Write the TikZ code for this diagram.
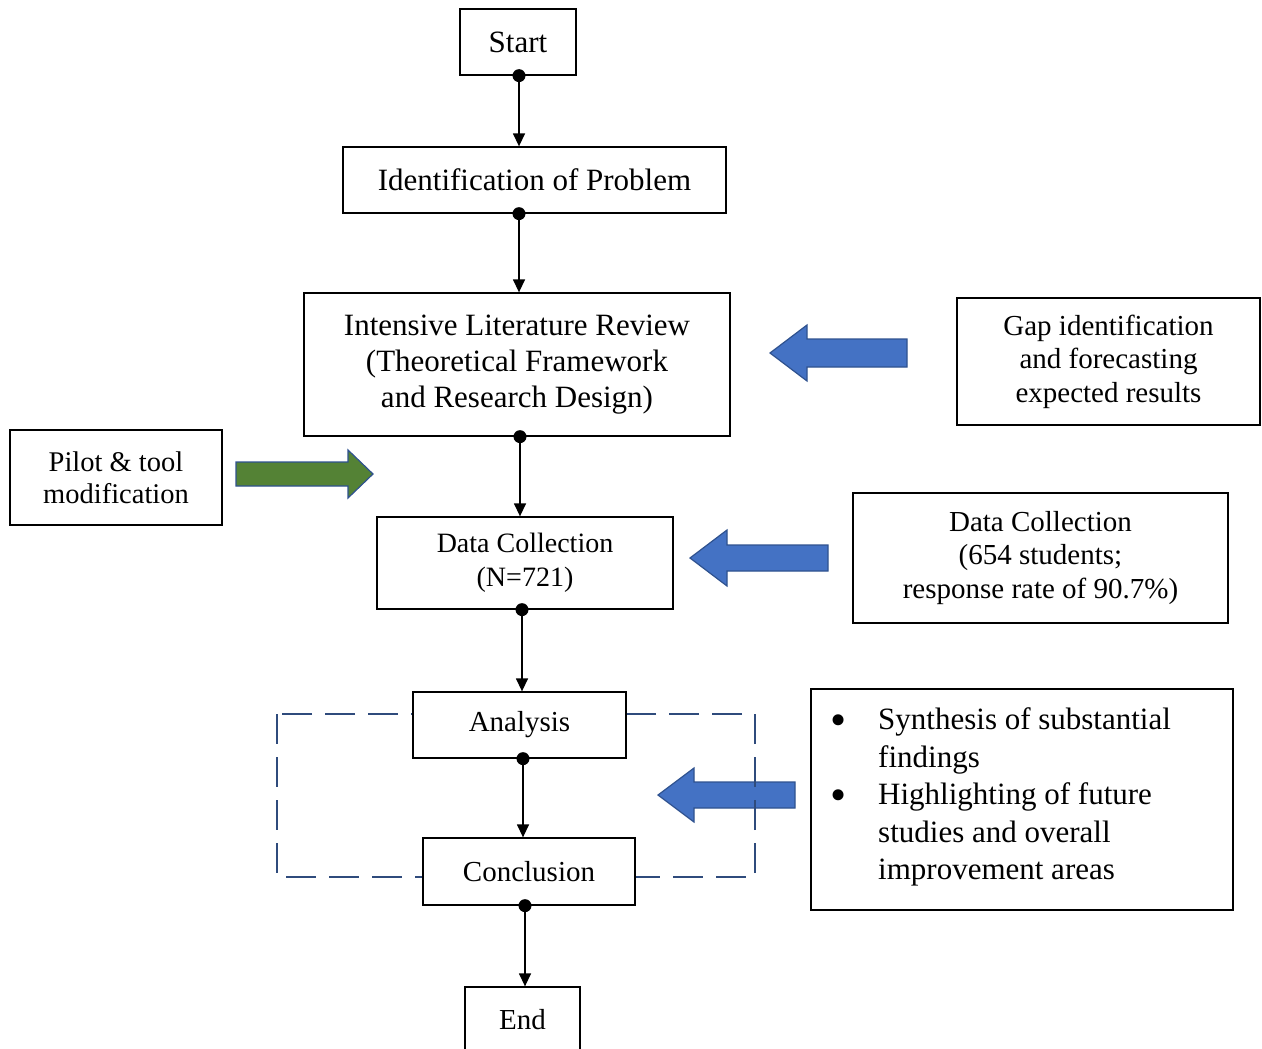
\documentclass[tikz,border=0pt]{standalone}
\usepackage{fontspec}
\setmainfont{Liberation Serif}
\usetikzlibrary{arrows.meta}
\definecolor{arrowblue}{HTML}{4472C4}
\definecolor{arrowedge}{HTML}{2F528F}
\definecolor{arrowgreen}{HTML}{548235}
\definecolor{dashblue}{HTML}{2F4B7C}
\newcommand{\bigbul}{\raisebox{-6pt}[0pt][0pt]{\fontsize{46}{37.5}\selectfont\textbullet}}
\begin{document}
\begin{tikzpicture}[x=1pt,y=-1pt,
  box/.style={draw=black, line width=1.3pt, fill=white, inner sep=0pt, align=center},
  big/.style={font=\fontsize{31}{36}\selectfont},
  mid/.style={font=\fontsize{29}{33.5}\selectfont},
  flow/.style={line width=1.4pt, -{Triangle[length=13pt,width=12pt]}},
  dot/.style={fill=black},
  barrow/.style={fill=arrowblue, draw=arrowedge, line width=1.2pt, line join=miter},
  garrow/.style={fill=arrowgreen, draw=arrowedge, line width=1.2pt, line join=miter},
  frame/.style={draw=dashblue, line width=2.8pt, dash pattern=on 30pt off 13pt}]
\useasboundingbox (0,0) rectangle (1262,1049);
\clip (0,0) rectangle (1262,1049);

% block arrows
\draw[barrow] (907,339) -- (807,339) -- (807,325) -- (770,353) -- (807,381) -- (807,367) -- (907,367) -- cycle;
\draw[barrow] (828,545) -- (727,545) -- (727,530) -- (690,558) -- (727,586) -- (727,571) -- (828,571) -- cycle;
\draw[barrow] (795,782) -- (694,782) -- (694,768) -- (658,795) -- (694,822) -- (694,808) -- (795,808) -- cycle;
\draw[garrow] (236,462) -- (348,462) -- (348,450) -- (373,474) -- (348,498) -- (348,486) -- (236,486) -- cycle;

% dashed frame
\draw[frame] (277,714) rectangle (755,877);

% main flow boxes
\node[box, big, minimum width=116pt, minimum height=66pt] (start) at (518,42) {Start};
\node[box, big, minimum width=383pt, minimum height=66pt] (ident) at (534.5,180) {Identification of Problem};
\node[box, big, minimum width=426pt, minimum height=143pt] (lit) at (517,364.5)
  {Intensive Literature Review\\(Theoretical Framework\\and Research Design)};
\node[box, font=\fontsize{28}{34}\selectfont, minimum width=296pt, minimum height=92pt] (data) at (525,563)
  {Data Collection\\(N=721)};
\node[box, mid, minimum width=213pt, minimum height=66pt] (analysis) at (519.5,725) {Analysis};
\node[box, mid, minimum width=212pt, minimum height=67pt] (concl) at (529,871.5) {Conclusion};
\node[box, mid, minimum width=115pt, minimum height=66pt] (endn) at (522.5,1020) {End};

% side boxes
\node[box, mid, minimum width=303pt, minimum height=127pt] (gap) at (1108.5,361.5)
  {Gap identification\\and forecasting\\expected results};
\node[box, font=\fontsize{28.5}{32}\selectfont, minimum width=212pt, minimum height=95pt] (pilot) at (116,477.5)
  {Pilot \& tool\\modification};
\node[box, mid, minimum width=375pt, minimum height=130pt] (data2) at (1040.5,558)
  {Data Collection\\(654 students;\\response rate of 90.7\%)};
\node[box, minimum width=422pt, minimum height=221pt] (synth) at (1022,799.5) {};
\node[anchor=west, inner sep=0pt, font=\fontsize{31}{37.5}\selectfont] (blist) at (830,797)
  {\begin{tabular}{@{}p{48pt}@{}l@{}}
   \bigbul & Synthesis of substantial\\
           & findings\\
   \bigbul & Highlighting of future\\
           & studies and overall\\
           & improvement areas
   \end{tabular}};

% connectors with dots
\coordinate (s1) at ([xshift=1pt]start.south);
\coordinate (s2) at ([xshift=-15.5pt]ident.south);
\coordinate (s3) at ([xshift=3pt]lit.south);
\coordinate (s4) at ([xshift=-3pt]data.south);
\coordinate (s5) at ([xshift=3.5pt]analysis.south);
\coordinate (s6) at ([xshift=-4pt]concl.south);
\draw[flow] (s1) -- (s1 |- ident.north);
\draw[flow] (s2) -- (s2 |- lit.north);
\draw[flow] (s3) -- (s3 |- data.north);
\draw[flow] (s4) -- (s4 |- analysis.north);
\draw[flow] (s5) -- (s5 |- concl.north);
\draw[flow] (s6) -- (s6 |- endn.north);
\foreach \p in {s1,s2,s3,s4,s5,s6} \fill[dot] (\p) circle (6.5pt);
\end{tikzpicture}
\end{document}
